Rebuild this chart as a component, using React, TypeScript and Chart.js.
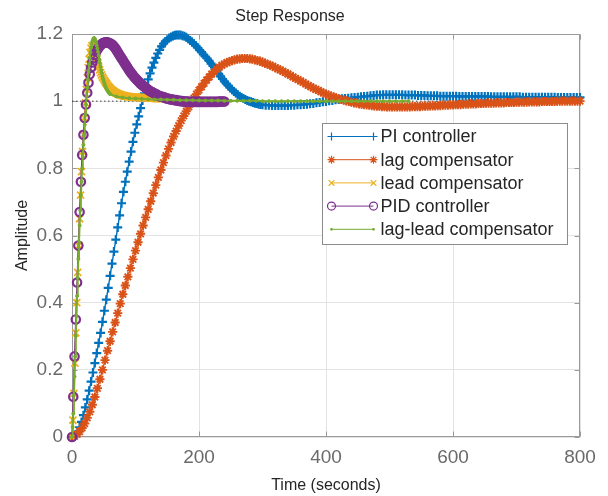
import React, { useEffect, useRef } from 'react';
import { Chart, registerables } from 'chart.js';

Chart.register(...registerables);

// Evenly spaced sample instants: start, spacing, count.
function sampleGrid(start: number, step: number, count: number): number[] {
  return Array.from({ length: count }, (_, i) => start + i * step);
}

const TITLE = 'Step Response';
const X_LABEL = 'Time (seconds)';
const Y_LABEL = 'Amplitude';
const X_TICKS = [0, 200, 400, 600, 800];
const Y_TICKS = [0, 0.2, 0.4, 0.6, 0.8, 1, 1.2];
const FINAL_VALUE = 1;

// PI controller: 3 s samples to 300 s, then 5 s samples to 800 s
const PI_TIME = [...sampleGrid(0, 3, 101), ...sampleGrid(305, 5, 100)];
const PI_VALUES = [
  0, 0.002, 0.007, 0.016, 0.029, 0.045, 0.065, 0.088, 0.112, 0.138,
  0.165, 0.192, 0.22, 0.25, 0.28, 0.31, 0.343, 0.376, 0.409, 0.444,
  0.48, 0.516, 0.552, 0.588, 0.624, 0.66, 0.696, 0.73, 0.76, 0.79,
  0.82, 0.85, 0.879, 0.906, 0.931, 0.955, 0.979, 1.002, 1.023, 1.044,
  1.065, 1.083, 1.1, 1.115, 1.129, 1.142, 1.153, 1.163, 1.171, 1.178,
  1.183, 1.188, 1.191, 1.194, 1.196, 1.197, 1.197, 1.197, 1.195, 1.193,
  1.19, 1.186, 1.181, 1.176, 1.171, 1.165, 1.159, 1.152, 1.146, 1.139,
  1.133, 1.127, 1.12, 1.112, 1.105, 1.097, 1.089, 1.081, 1.074, 1.066,
  1.059, 1.052, 1.046, 1.04, 1.034, 1.029, 1.024, 1.019, 1.015, 1.011,
  1.008, 1.005, 1.002, 1.0, 0.998, 0.996, 0.994, 0.993, 0.991, 0.99,
  0.989,
  0.988, 0.988, 0.987, 0.987, 0.987, 0.987, 0.987, 0.987, 0.988, 0.988,
  0.989, 0.989, 0.99, 0.991, 0.992, 0.993, 0.995, 0.996, 0.998, 0.999,
  1.001, 1.002, 1.004, 1.005, 1.007, 1.008, 1.009, 1.01, 1.011, 1.012,
  1.013, 1.014, 1.015, 1.016, 1.017, 1.018, 1.018, 1.019, 1.019, 1.019,
  1.019, 1.019, 1.019, 1.019, 1.018, 1.018, 1.018, 1.018, 1.017, 1.017,
  1.017, 1.016, 1.016, 1.016, 1.016, 1.015, 1.015, 1.015, 1.015, 1.015,
  1.015, 1.014, 1.014, 1.014, 1.014, 1.014, 1.014, 1.014, 1.014, 1.014,
  1.014, 1.013, 1.013, 1.013, 1.013, 1.013, 1.013, 1.013, 1.013, 1.013,
  1.013, 1.012, 1.012, 1.012, 1.012, 1.012, 1.012, 1.012, 1.012, 1.012,
  1.012, 1.012, 1.011, 1.011, 1.011, 1.011, 1.011, 1.011, 1.011, 1.011,
];

// lag compensator: 4 s samples to 800 s
const LAG_TIME = sampleGrid(0, 4, 201);
const LAG_VALUES = [
  0, 0.002, 0.008, 0.016, 0.027, 0.04, 0.057, 0.075, 0.096, 0.119,
  0.145, 0.172, 0.2, 0.229, 0.257, 0.285, 0.313, 0.341, 0.369, 0.397,
  0.425, 0.451, 0.477, 0.503, 0.529, 0.555, 0.58, 0.605, 0.63, 0.654,
  0.678, 0.702, 0.726, 0.75, 0.773, 0.795, 0.817, 0.838, 0.858, 0.877,
  0.895, 0.911, 0.927, 0.942, 0.956, 0.97, 0.983, 0.996, 1.009, 1.021,
  1.033, 1.043, 1.053, 1.063, 1.072, 1.081, 1.088, 1.095, 1.101, 1.107,
  1.111, 1.115, 1.118, 1.121, 1.123, 1.125, 1.126, 1.127, 1.127, 1.127,
  1.126, 1.125, 1.123, 1.121, 1.119, 1.116, 1.113, 1.11, 1.107, 1.104,
  1.1, 1.096, 1.093, 1.089, 1.085, 1.081, 1.077, 1.072, 1.068, 1.064,
  1.06, 1.056, 1.051, 1.047, 1.043, 1.039, 1.035, 1.032, 1.028, 1.024,
  1.021, 1.018, 1.015, 1.013, 1.01, 1.008, 1.005, 1.003, 1.001, 0.999,
  0.997, 0.995, 0.994, 0.992, 0.991, 0.99, 0.989, 0.988, 0.987, 0.986,
  0.985, 0.985, 0.984, 0.984, 0.983, 0.983, 0.983, 0.983, 0.983, 0.983,
  0.983, 0.983, 0.983, 0.983, 0.984, 0.984, 0.984, 0.984, 0.985, 0.985,
  0.985, 0.986, 0.986, 0.986, 0.987, 0.987, 0.988, 0.988, 0.988, 0.989,
  0.989, 0.99, 0.99, 0.99, 0.991, 0.991, 0.991, 0.992, 0.992, 0.992,
  0.993, 0.993, 0.993, 0.994, 0.994, 0.994, 0.994, 0.995, 0.995, 0.995,
  0.995, 0.996, 0.996, 0.996, 0.996, 0.997, 0.997, 0.997, 0.997, 0.997,
  0.998, 0.998, 0.998, 0.998, 0.998, 0.999, 0.999, 0.999, 0.999, 0.999,
  0.999, 1, 1, 1, 1, 1, 1, 1, 1, 1,
  1,
];

// lead compensator: 1.5 s samples to 141 s
const LEAD_TIME = sampleGrid(0, 1.5, 95);
const LEAD_VALUES = [
  0, 0.05, 0.13, 0.22, 0.31, 0.4, 0.49, 0.57, 0.65, 0.72,
  0.79, 0.85, 0.9, 0.95, 0.995, 1.035, 1.07, 1.1, 1.125, 1.145,
  1.158, 1.165, 1.165, 1.16, 1.15, 1.138, 1.125, 1.113, 1.102, 1.093,
  1.085, 1.078, 1.072, 1.067, 1.062, 1.057, 1.053, 1.049, 1.045, 1.042,
  1.039, 1.036, 1.033, 1.031, 1.029, 1.027, 1.025, 1.024, 1.022, 1.021,
  1.02, 1.019, 1.018, 1.017, 1.016, 1.016, 1.015, 1.015, 1.014, 1.014,
  1.013, 1.013, 1.013, 1.013, 1.012, 1.012, 1.012, 1.012, 1.012, 1.011,
  1.011, 1.011, 1.011, 1.011, 1.011, 1.01, 1.01, 1.01, 1.01, 1.01,
  1.01, 1.01, 1.009, 1.009, 1.009, 1.009, 1.009, 1.009, 1.008, 1.008,
  1.008, 1.008, 1.008, 1.008, 1.008,
];

// PID controller: 2 s samples to 240 s
const PID_TIME = sampleGrid(0, 2, 121);
const PID_VALUES = [
  0, 0.12, 0.24, 0.35, 0.46, 0.57, 0.67, 0.76, 0.84, 0.9,
  0.95, 0.99, 1.025, 1.055, 1.08, 1.1, 1.115, 1.128, 1.138, 1.147,
  1.154, 1.16, 1.165, 1.169, 1.172, 1.174, 1.175, 1.175, 1.175, 1.174,
  1.172, 1.17, 1.167, 1.163, 1.158, 1.152, 1.146, 1.14, 1.134, 1.128,
  1.122, 1.116, 1.11, 1.104, 1.098, 1.092, 1.087, 1.082, 1.077, 1.072,
  1.068, 1.064, 1.06, 1.056, 1.052, 1.049, 1.046, 1.043, 1.04, 1.037,
  1.034, 1.031, 1.029, 1.027, 1.025, 1.023, 1.021, 1.019, 1.017, 1.015,
  1.014, 1.013, 1.012, 1.011, 1.009, 1.008, 1.007, 1.006, 1.005, 1.005,
  1.004, 1.003, 1.003, 1.002, 1.001, 1.001, 1.0, 1.0, 0.999, 0.999,
  0.999, 0.999, 0.998, 0.998, 0.998, 0.998, 0.998, 0.998, 0.998, 0.998,
  0.998, 0.998, 0.998, 0.998, 0.998, 0.998, 0.998, 0.998, 0.998, 0.998,
  0.998, 0.998, 0.998, 0.998, 0.998, 0.998, 0.999, 0.999, 0.999, 0.999,
  0.999,
];

// lag-lead compensator: 1 s samples to 60 s, then 10 s samples to 530 s
const LAGLEAD_TIME = [...sampleGrid(0, 1, 61), ...sampleGrid(70, 10, 47)];
const LAGLEAD_VALUES = [
  0, 0.03, 0.07, 0.125, 0.18, 0.24, 0.3, 0.36, 0.42, 0.475,
  0.53, 0.58, 0.63, 0.675, 0.72, 0.76, 0.8, 0.835, 0.87, 0.9,
  0.93, 0.96, 0.99, 1.015, 1.04, 1.065, 1.09, 1.11, 1.13, 1.145,
  1.16, 1.17, 1.178, 1.183, 1.187, 1.188, 1.186, 1.181, 1.174, 1.166,
  1.157, 1.147, 1.136, 1.125, 1.114, 1.103, 1.093, 1.083, 1.074, 1.066,
  1.059, 1.053, 1.047, 1.042, 1.038, 1.034, 1.031, 1.028, 1.025, 1.023,
  1.021,
  1.014, 1.011, 1.009, 1.008, 1.007, 1.006, 1.005, 1.005, 1.004, 1.004,
  1.003, 1.003, 1.003, 1.002, 1.002, 1.002, 1.002, 1.001, 1.001, 1.001,
  1.001, 1.001, 1.001, 1, 1, 1, 1, 1, 1, 1,
  1, 1, 1, 1, 1, 1, 1, 1, 1, 1,
  1, 1, 1, 1, 1, 1, 1,
];

type Marker = 'cross' | 'star' | 'crossRot' | 'ring' | 'dot';

interface Series {
  label: string;
  time: number[];
  values: number[];
  color: string;
  marker: Marker;
  radius: number;
  markerWidth: number;
  lineWidth: number;
}

const SERIES: Series[] = [
  { label: 'PI controller', time: PI_TIME, values: PI_VALUES, color: '#0072BD', marker: 'cross', radius: 4.5, markerWidth: 2.2, lineWidth: 1.4 },
  { label: 'lag compensator', time: LAG_TIME, values: LAG_VALUES, color: '#D95319', marker: 'star', radius: 4.6, markerWidth: 1.9, lineWidth: 1.4 },
  { label: 'lead compensator', time: LEAD_TIME, values: LEAD_VALUES, color: '#EDB120', marker: 'crossRot', radius: 5, markerWidth: 1.8, lineWidth: 1.4 },
  { label: 'PID controller', time: PID_TIME, values: PID_VALUES, color: '#7E2F8E', marker: 'ring', radius: 4.2, markerWidth: 2.2, lineWidth: 1.4 },
  { label: 'lag-lead compensator', time: LAGLEAD_TIME, values: LAGLEAD_VALUES, color: '#77AC30', marker: 'dot', radius: 1.5, markerWidth: 1, lineWidth: 2 },
];

const FONT = "'Liberation Sans', Arial, Helvetica, sans-serif";
const AXIS_COLOR = '#9a9a9a';
const GRID_COLOR = '#e3e3e3';
const TICK_COLOR = '#6a6a6a';
const TEXT_COLOR = '#262626';

function drawMarker(ctx: CanvasRenderingContext2D, marker: Marker, x: number, y: number, r: number) {
  ctx.beginPath();
  if (marker === 'cross' || marker === 'star') {
    ctx.moveTo(x - r, y);
    ctx.lineTo(x + r, y);
    ctx.moveTo(x, y - r);
    ctx.lineTo(x, y + r);
  }
  if (marker === 'crossRot' || marker === 'star') {
    const d = r * Math.SQRT1_2;
    ctx.moveTo(x - d, y - d);
    ctx.lineTo(x + d, y + d);
    ctx.moveTo(x - d, y + d);
    ctx.lineTo(x + d, y - d);
  }
  if (marker === 'ring') {
    ctx.arc(x, y, r, 0, Math.PI * 2);
  }
  if (marker === 'dot') {
    ctx.arc(x, y, r, 0, Math.PI * 2);
    ctx.fill();
    return;
  }
  ctx.stroke();
}

// Box around the axes with inward tick marks (drawn beneath the curves),
// and the legend panel (drawn above them).
const axesDecor = {
  id: 'axesDecor',
  beforeDatasetsDraw(chart: any) {
    const { ctx, chartArea: a, scales } = chart;
    const l = Math.round(a.left) + 0.5;
    const r = Math.round(a.right) - 0.5;
    const t = Math.round(a.top) + 0.5;
    const b = Math.round(a.bottom) - 0.5;
    ctx.save();
    ctx.strokeStyle = AXIS_COLOR;
    ctx.lineWidth = 1;
    ctx.strokeRect(l, t, r - l, b - t);
    ctx.beginPath();
    const tick = 5;
    X_TICKS.forEach((v) => {
      const px = Math.round(scales.x.getPixelForValue(v)) + 0.5;
      ctx.moveTo(px, b);
      ctx.lineTo(px, b - tick);
      ctx.moveTo(px, t);
      ctx.lineTo(px, t + tick);
    });
    Y_TICKS.forEach((v) => {
      const py = Math.round(scales.y.getPixelForValue(v)) + 0.5;
      ctx.moveTo(l, py);
      ctx.lineTo(l + tick, py);
      ctx.moveTo(r, py);
      ctx.lineTo(r - tick, py);
    });
    ctx.stroke();
    ctx.restore();
  },
  afterDatasetsDraw(chart: any) {
    const { ctx, chartArea: a } = chart;
    const boxW = 245;
    const boxH = 121;
    const boxL = Math.round(a.right) - 258 + 0.5;
    const boxT = Math.round(a.top) + 89 + 0.5;
    const rowH = 23.2;
    ctx.save();
    ctx.fillStyle = '#ffffff';
    ctx.fillRect(boxL, boxT, boxW, boxH);
    ctx.strokeStyle = '#8c8c8c';
    ctx.lineWidth = 1;
    ctx.strokeRect(boxL, boxT, boxW, boxH);
    ctx.font = `18px ${FONT}`;
    ctx.textBaseline = 'middle';
    ctx.textAlign = 'left';
    SERIES.forEach((s, i) => {
      const y = boxT + 13 + i * rowH;
      const x0 = boxL + 9;
      const x1 = boxL + 51;
      ctx.strokeStyle = s.color;
      ctx.fillStyle = s.color;
      ctx.lineWidth = 1;
      ctx.beginPath();
      ctx.moveTo(x0, y);
      ctx.lineTo(x1, y);
      ctx.stroke();
      ctx.lineWidth = 1.2;
      drawMarker(ctx, s.marker, x0, y, s.marker === 'dot' ? 1.4 : 4);
      drawMarker(ctx, s.marker, x1, y, s.marker === 'dot' ? 1.4 : 4);
      ctx.fillStyle = TEXT_COLOR;
      ctx.fillText(s.label, boxL + 58, y + 1);
    });
    ctx.restore();
  },
};

const pointStyleOf: Record<Marker, string> = {
  cross: 'cross',
  star: 'star',
  crossRot: 'crossRot',
  ring: 'circle',
  dot: 'circle',
};

export default function App() {
  const canvasRef = useRef<HTMLCanvasElement>(null);

  useEffect(() => {
    const canvas = canvasRef.current;
    if (!canvas) return;

    const datasets: any[] = SERIES.map((s, i) => ({
      label: s.label,
      data: s.time.map((t, k) => ({ x: t, y: s.values[k] })),
      borderColor: s.color,
      borderWidth: s.lineWidth,
      backgroundColor: s.color,
      pointStyle: pointStyleOf[s.marker],
      pointRadius: s.radius,
      pointBorderWidth: s.markerWidth,
      pointBorderColor: s.color,
      pointBackgroundColor: s.marker === 'ring' ? 'rgba(0,0,0,0)' : s.color,
      tension: 0,
      fill: false,
      clip: false,
      order: SERIES.length - i,
    }));

    // dotted steady-state reference
    datasets.push({
      label: 'final value',
      data: [
        { x: X_TICKS[0], y: FINAL_VALUE },
        { x: X_TICKS[X_TICKS.length - 1], y: FINAL_VALUE },
      ],
      borderColor: '#3a3a3a',
      borderWidth: 1,
      borderDash: [1.5, 2.5],
      pointRadius: 0,
      fill: false,
      order: SERIES.length + 1,
    });

    const tickFont = { family: FONT, size: 19 };
    const labelFont = { family: FONT, size: 16 };

    const chart = new Chart(canvas, {
      type: 'line',
      data: { datasets },
      options: {
        responsive: false,
        animation: false,
        events: [],
        layout: { padding: { left: 0, right: 28, top: 0, bottom: 0 } },
        plugins: {
          legend: { display: false },
          tooltip: { enabled: false },
          title: {
            display: true,
            text: TITLE,
            color: TEXT_COLOR,
            font: { family: FONT, size: 16, weight: 'normal' },
            padding: { top: 7, bottom: 7.8 },
          },
        },
        scales: {
          x: {
            type: 'linear',
            min: X_TICKS[0],
            max: X_TICKS[X_TICKS.length - 1],
            afterBuildTicks: (scale: any) => {
              scale.ticks = X_TICKS.map((v) => ({ value: v }));
            },
            afterFit: (scale: any) => {
              scale.height = 59;
            },
            grid: { color: GRID_COLOR, drawTicks: false, lineWidth: 1 },
            border: { display: false },
            ticks: {
              color: TICK_COLOR,
              font: tickFont,
              padding: 9,
              maxRotation: 0,
              callback: (v: any) => String(v),
            },
            title: {
              display: true,
              text: X_LABEL,
              color: TEXT_COLOR,
              font: labelFont,
              padding: { top: 0, bottom: 1 },
            },
          },
          y: {
            type: 'linear',
            min: Y_TICKS[0],
            max: Y_TICKS[Y_TICKS.length - 1],
            afterBuildTicks: (scale: any) => {
              scale.ticks = Y_TICKS.map((v) => ({ value: v }));
            },
            afterFit: (scale: any) => {
              scale.width = 72;
            },
            grid: { color: GRID_COLOR, drawTicks: false, lineWidth: 1 },
            border: { display: false },
            ticks: {
              color: TICK_COLOR,
              font: tickFont,
              padding: 9,
              callback: (v: any) => String(Number(Number(v).toFixed(1))),
            },
            title: {
              display: true,
              text: Y_LABEL,
              color: TEXT_COLOR,
              font: labelFont,
              padding: { top: 13, bottom: 0 },
            },
          },
        },
      } as any,
      plugins: [axesDecor],
    });

    return () => chart.destroy();
  }, []);

  return (
    <div style={{ position: 'fixed', left: 0, top: 0, width: 608, height: 496, background: '#ffffff' }}>
      <canvas ref={canvasRef} width={608} height={496} style={{ display: 'block' }} />
    </div>
  );
}
